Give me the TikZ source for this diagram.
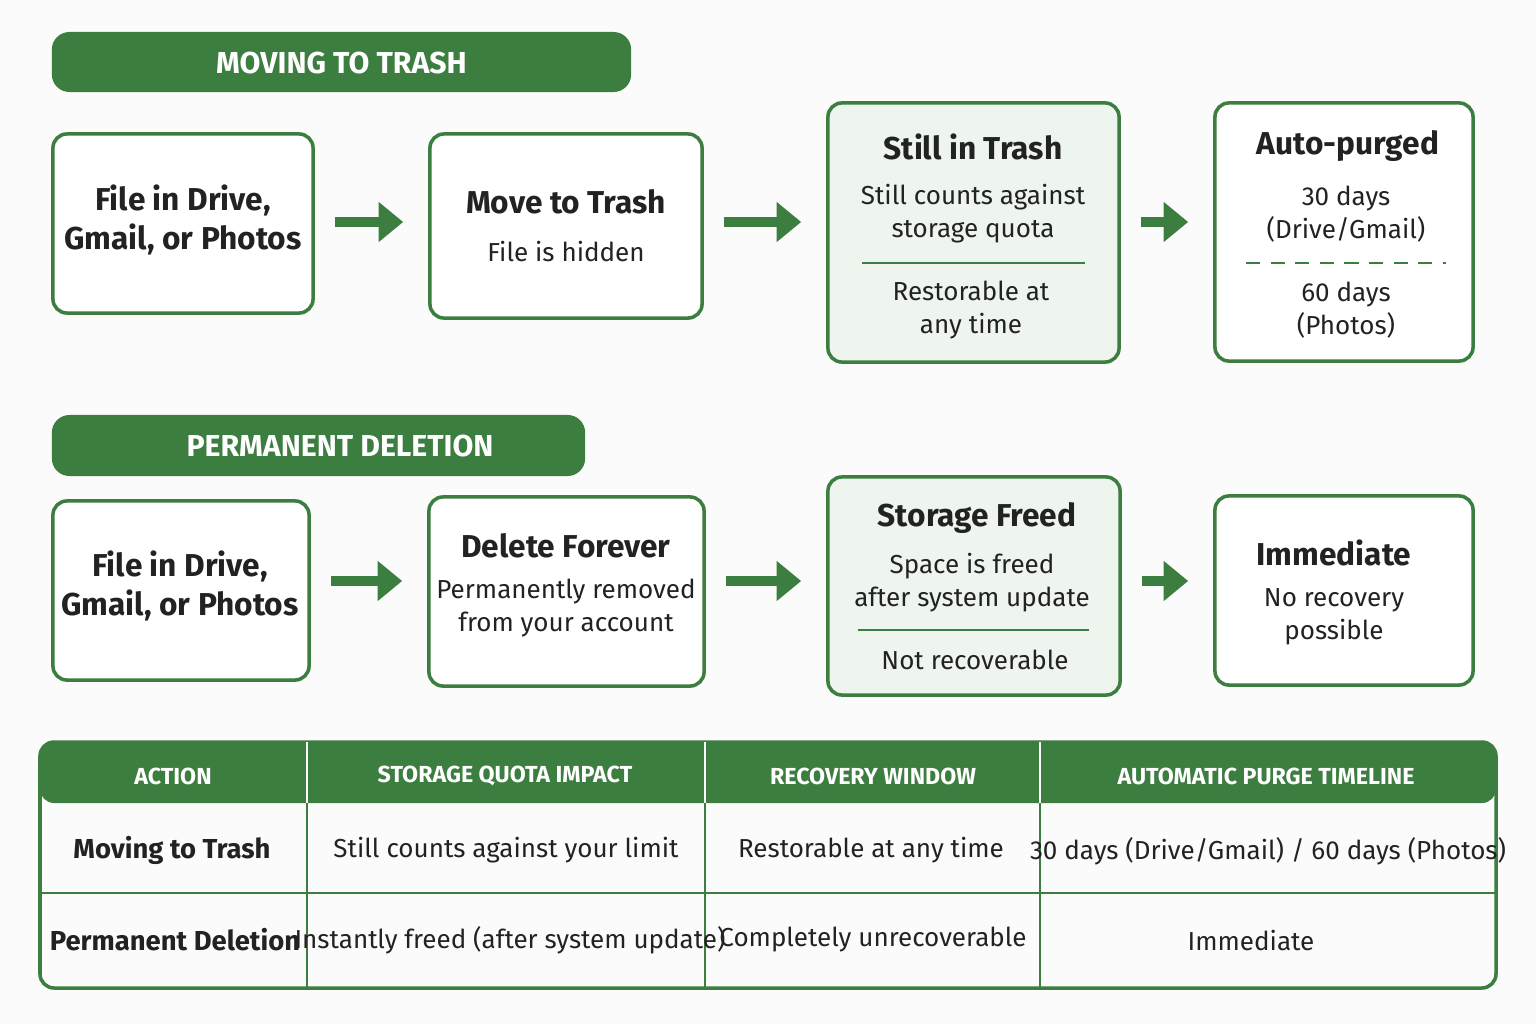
\documentclass[tikz,border=0pt]{standalone}
\usepackage{fontspec}
\setmainfont{Fira Sans}
\usepackage{xcolor}
\usetikzlibrary{arrows.meta, positioning}
\definecolor{leaf}{HTML}{3C7D40}
\definecolor{mint}{HTML}{EEF5EE}
\definecolor{paper}{HTML}{FBFBFB}
\definecolor{ink}{HTML}{222222}
\tikzset{
  banner/.style={rectangle, rounded corners=5pt, fill=leaf, text=white, font=\bfseries\fontsize{8.6}{10}\selectfont},
  stage/.style={rectangle, rounded corners=4pt, draw=leaf, line width=1pt, fill=white},
  held/.style={stage, fill=mint},
  head/.style={text=ink, font=\bfseries\fontsize{9}{11}\selectfont, align=center},
  note/.style={text=ink, font=\fontsize{7.4}{9.4}\selectfont, align=center},
  flow/.style={line width=2.6pt, leaf, -{Triangle[length=7pt,width=11pt]}, shorten <=5.7pt, shorten >=7.1pt},
  colhead/.style={text=white, font=\bfseries\fontsize{6.6}{8}\selectfont},
  cell/.style={text=ink, font=\fontsize{7.4}{9}\selectfont},
  rowhead/.style={text=ink, font=\bfseries\fontsize{7.8}{9}\selectfont}
}
\begin{document}
\begin{tikzpicture}[x=0.01cm,y=-0.01cm]
\fill[paper] (0,0) rectangle (1536,1024);
\useasboundingbox (0,0) rectangle (1536,1024);
% moving to trash
\node[banner, minimum width=5.79cm, minimum height=0.6cm] (trashbar) at (341.5,62) {};
\node[banner, fill=none] (trashtitle) at (341.5,63) {MOVING TO TRASH};
\node[stage, minimum width=2.6cm, minimum height=1.79cm] (file1) at (183,223.5) {};
\node[stage, minimum width=2.72cm, minimum height=1.84cm] (move) at (566,226) {};
\node[held, minimum width=2.91cm, minimum height=2.59cm] (still) at (973.5,232.5) {};
\node[stage, minimum width=2.58cm, minimum height=2.58cm] (purge) at (1344,232) {};
\node[head] (file1t) at (183,220) {File in Drive,\\Gmail, or Photos};
\node[head] (movet) at (566,202) {Move to Trash};
\node[note] (moven) at (566,252) {File is hidden};
\node[head] (stillt) at (973,147) {Still in Trash};
\node[note] (stilln) at (973,214) {Still counts against\\storage quota};
\node[note] (stillr) at (971,310) {Restorable at\\any time};
\draw[leaf, line width=0.7pt] (862,263) -- (1085,263);
\node[head] (purget) at (1348,146) {Auto-purged};
\node[note] (purgea) at (1346,214) {30 days\\(Drive/Gmail)};
\node[note] (purgeb) at (1346,310) {60 days\\(Photos)};
\draw[leaf, line width=0.7pt, dash pattern=on 4pt off 3pt] (1246,263) -- (1446,263);
\draw[flow] (file1.east |- 0,222) -- (move.west |- 0,222);
\draw[flow] (move.east |- 0,222) -- (still.west |- 0,222);
\draw[flow] (still.east |- 0,222) -- (purge.west |- 0,222);
% permanent deletion
\node[banner, minimum width=5.33cm, minimum height=0.61cm] (delbar) at (318.5,445.5) {};
\node[banner, fill=none] (deltitle) at (340,446) {PERMANENT DELETION};
\node[stage, minimum width=2.56cm, minimum height=1.79cm] (file2) at (181,590.5) {};
\node[stage, minimum width=2.75cm, minimum height=1.89cm] (forever) at (566.5,591.5) {};
\node[held, minimum width=2.92cm, minimum height=2.18cm] (freed) at (974,586) {};
\node[stage, minimum width=2.58cm, minimum height=1.89cm] (instant) at (1344,590.5) {};
\node[head] (file2t) at (180,586) {File in Drive,\\Gmail, or Photos};
\node[head] (forevert) at (566,546) {Delete Forever};
\node[note] (forevern) at (566,608) {Permanently removed\\from your account};
\node[head] (freedt) at (977,518) {Storage Freed};
\node[note] (freedn) at (972,583) {Space is freed\\after system update};
\node[note] (freedr) at (975,660) {Not recoverable};
\draw[leaf, line width=0.7pt] (858,630) -- (1089,630);
\node[head] (instantt) at (1334,553) {Immediate};
\node[note] (instantn) at (1334,617) {No recovery\\possible};
\draw[flow] (file2.east |- 0,581) -- (forever.west |- 0,581);
\draw[flow] (forever.east |- 0,581) -- (freed.west |- 0,581);
\draw[flow] (freed.east |- 0,581) -- (instant.west |- 0,581);
% summary table
\fill[leaf, rounded corners=4pt] (40,742) rectangle (1496,803);
\draw[leaf, line width=1pt, rounded corners=4pt] (40,742) rectangle (1496,988);
\draw[leaf, line width=0.7pt] (40,893) -- (1496,893);
\foreach \cx in {307,705,1040}
  \draw[leaf, line width=0.7pt] (\cx,742) -- (\cx,988);
\draw[white, line width=0.5pt] (307,742) -- (307,803) (705,742) -- (705,803) (1040,742) -- (1040,803);
\node[colhead] (hact) at (173,776) {ACTION};
\node[colhead] (hquota) at (505,776) {STORAGE QUOTA IMPACT};
\node[colhead] (hwin) at (873,776) {RECOVERY WINDOW};
\node[colhead] (hpurge) at (1266,776) {AUTOMATIC PURGE TIMELINE};
\node[rowhead] (rtrash) at (172,850) {Moving to Trash};
\node[cell] (rtquota) at (506,850) {Still counts against your limit};
\node[cell] (rtwin) at (871,850) {Restorable at any time};
\node[cell] (rtpurge) at (1268,851) {30 days (Drive/Gmail) / 60 days (Photos)};
\node[rowhead] (rdel) at (175,940) {Permanent Deletion};
\node[cell] (rdquota) at (510,940) {Instantly freed (after system update)};
\node[cell] (rdwin) at (873,940) {Completely unrecoverable};
\node[cell] (rdpurge) at (1251,940) {Immediate};
\end{tikzpicture}
\end{document}
